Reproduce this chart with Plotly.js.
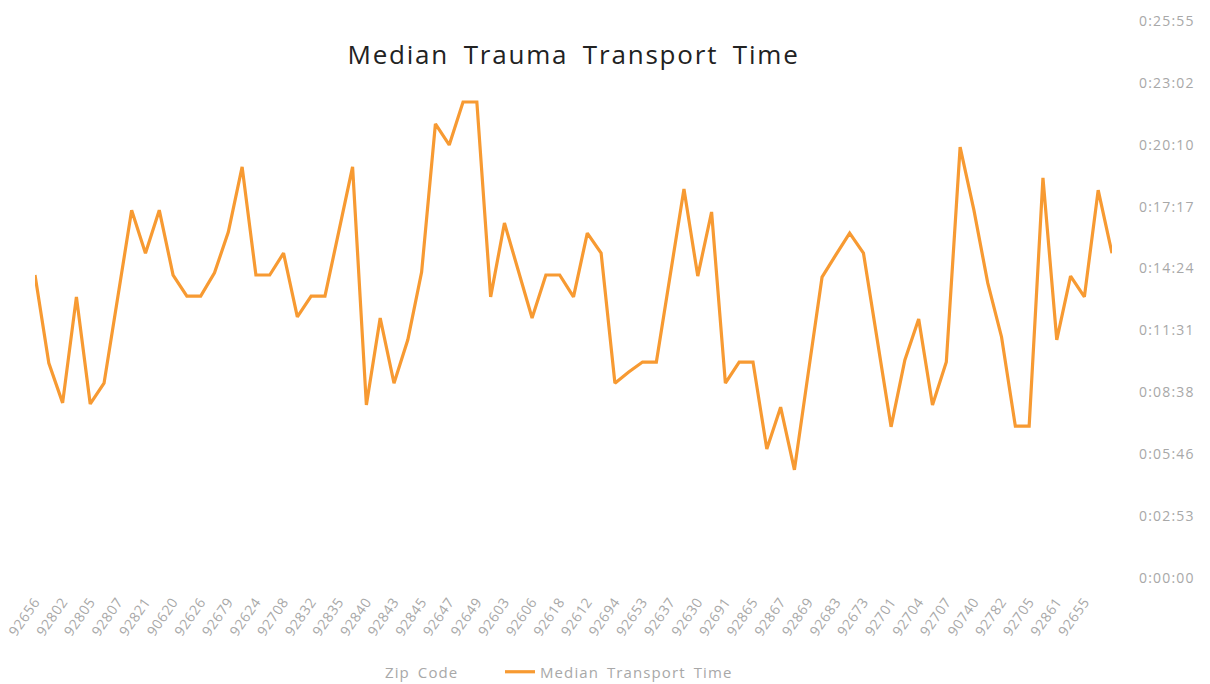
<!DOCTYPE html>
<html>
<head>
<meta charset="utf-8">
<script src="https://cdn.plot.ly/plotly-3.0.1.min.js"></script>
<style>
html,body{margin:0;padding:0;background:#fff;}
#chart{width:1210px;height:684px;}
.gtitle{letter-spacing:1.8px;word-spacing:6px;}
.ytick text{letter-spacing:1.2px;}
.xtick text{letter-spacing:0.6px;}
.legendtext{letter-spacing:1.1px;word-spacing:3px;}
.legend .scrollbox{clip-path:none !important;}
</style>
</head>
<body>
<div id="chart"></div>
<script>
// Zip code tick labels (Excel shows every other category)
const zipLabels = ["92656","92802","92805","92807","92821","90620","92626","92679","92624","92708",
  "92832","92835","92840","92843","92845","92647","92649","92603","92606","92618",
  "92612","92694","92653","92637","92630","92691","92865","92867","92869","92683",
  "92673","92701","92704","92707","90740","92782","92705","92861","92655"];

// Median transport time in seconds, one per zip code (79 points)
const medianSeconds = [846,600,489,785,486,544,785,1027,907,1027,
  846,787,787,852,966,1148,846,846,907,729,
  787,787,967,1148,483,726,544,665,854,1268,
  1209,1329,1329,785,991,860,726,846,846,785,
  963,907,544,575,603,603,843,1086,843,1022,
  544,603,603,360,477,302,572,840,902,963,
  907,665,422,609,723,483,603,1203,1027,824,
  673,424,424,1117,665,843,785,1083,907];

// Y axis ticks (seconds) and labels
const yTickVals = [0,172.8,345.6,518.4,691.2,864,1036.8,1209.6,1382.4,1555.2];
const yTickText = ["0:00:00","0:02:53","0:05:46","0:08:38","0:11:31","0:14:24","0:17:17","0:20:10","0:23:02","0:25:55"];

const idx = medianSeconds.map((_, i) => i);
const xTickVals = zipLabels.map((_, i) => i * 2);

const grey = '#a8a8a8';
const fontFam = 'Open Sans, sans-serif';

const traces = [
  {x:[null], y:[null], type:'scatter', mode:'lines', name:'Zip Code',
   line:{color:'rgba(0,0,0,0)', width:3}, hoverinfo:'skip'},
  {x: idx, y: medianSeconds, type:'scatter', mode:'lines', name:'Median Transport Time',
   line:{color:'#f79a32', width:3.2}}
];

const layout = {
  width:1210, height:684,
  paper_bgcolor:'#fff', plot_bgcolor:'#fff',
  margin:{l:35, r:98, t:21, b:106},
  title:{text:'Median Trauma Transport Time', font:{family:fontFam, size:26, color:'#222'},
    x:0.5, xref:'paper', xanchor:'center', y:1-55/684, yref:'container', yanchor:'middle'},
  xaxis:{range:[0,78], tickvals:xTickVals, ticktext:zipLabels, tickangle:-55,
    showgrid:false, zeroline:false, showline:false, ticks:'', ticklabelstandoff:12,
    tickfont:{family:fontFam, size:14, color:grey}},
  yaxis:{range:[0,1555.2], side:'right', tickvals:yTickVals, ticktext:yTickText,
    showgrid:false, zeroline:false, showline:false, ticks:'', ticklabelstandoff:26,
    tickfont:{family:fontFam, size:14, color:grey}},
  showlegend:true,
  legend:{orientation:'h', xref:'container', x:345/1210, xanchor:'left',
    yref:'container', y:12/684, yanchor:'middle', entrywidth:110, entrywidthmode:'pixels',
    font:{family:fontFam, size:15, color:grey}, bgcolor:'rgba(0,0,0,0)'}
};

Plotly.newPlot('chart', traces, layout, {displayModeBar:false, staticPlot:true});
</script>
</body>
</html>
